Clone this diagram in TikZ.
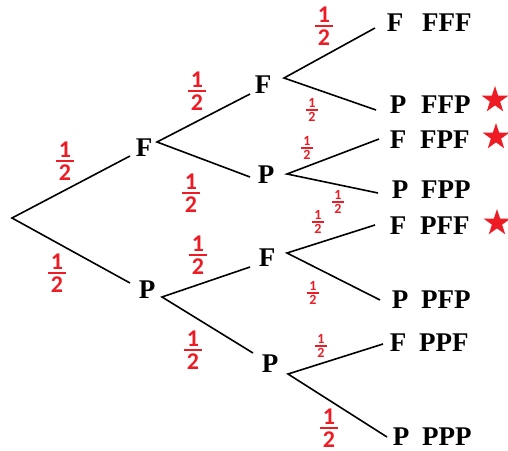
\documentclass[tikz,border=0pt]{standalone}
\usepackage{amsmath}
\usepackage{fontspec}
\setmainfont{Liberation Serif}
\newfontfamily\fracfont{Carlito}
\usetikzlibrary{calc,shapes.geometric}
\definecolor{myred}{HTML}{ED1C24}
% fraction 1/2 : #1 font size, #2 rule thickness, #3 side padding
\newcommand\myfr[3]{{\fontsize{#1}{#1}\selectfont\fracfont\bfseries$\genfrac{}{}{#2}{1}{\hbox{\kern#3 1\kern#3}}{\hbox{2}}$}}
\newcommand\bigfrac{\myfr{24}{2.2pt}{3pt}}
\newcommand\smallfrac{\myfr{14}{1.3pt}{2pt}}
\tikzset{
  lett/.style={font=\fontsize{27}{27}\selectfont\bfseries, inner sep=0pt},
  outc/.style={font=\fontsize{27}{27}\selectfont\bfseries, inner sep=0pt, anchor=west},
  branch/.style={line width=1.6pt, black},
  bigfr/.style={text=myred, inner sep=0pt},
  smallfr/.style={text=myred, inner sep=0pt},
  mystar/.style={star, star points=5, star point ratio=2.6, fill=myred, minimum size=28pt, inner sep=0pt},
}
\begin{document}
\begin{tikzpicture}[x=1pt,y=-1pt]
\useasboundingbox (0,0) rectangle (508,450);
% root and forks
\coordinate (root) at (12,218);
\node[lett] (F1) at (144,148) {F};
\node[lett] (P1) at (147,290) {P};
\node[lett] (F2) at (263,85) {F};
\node[lett] (P2) at (266,175) {P};
\node[lett] (F2b) at (267,258) {F};
\node[lett] (P2b) at (270,364) {P};
\coordinate (F1f) at (157,142);
\coordinate (P1f) at (162,297);
\coordinate (F2f) at (284,78);
\coordinate (P2f) at (287,174);
\coordinate (F2bf) at (287,253);
\coordinate (P2bf) at (288,374);
% leaves
\node[lett] (L1) at (395,23) {F};
\node[lett] (L2) at (398,105) {P};
\node[lett] (L3) at (398,140) {F};
\node[lett] (L4) at (400,190) {P};
\node[lett] (L5) at (398,226) {F};
\node[lett] (L6) at (400,300) {P};
\node[lett] (L7) at (398,343) {F};
\node[lett] (L8) at (401,437) {P};
\node[outc] (O1) at (422,23) {FFF};
\node[outc] (O2) at (421,105) {FFP};
\node[outc] (O3) at (420,140) {FPF};
\node[outc] (O4) at (421,190) {FPP};
\node[outc] (O5) at (420,226) {PFF};
\node[outc] (O6) at (421,300) {PFP};
\node[outc] (O7) at (419,343) {PPF};
\node[outc] (O8) at (422,437) {PPP};
% branches
\draw[branch] ($(F1)+(-14,8)$) -- (root) -- ($(P1)+(-17,-7)$);
\draw[branch] ($(F2)+(-13,9)$) -- (F1f) -- ($(P2)+(-16,2)$);
\draw[branch] ($(F2b)+(-17,9)$) -- (P1f) -- ($(P2b)+(-17,-11)$);
\draw[branch] ($(L1)+(-20,5)$) -- (F2f) -- ($(L2)+(-22,5)$);
\draw[branch] ($(L3)+(-19,-1)$) -- (P2f) -- ($(L4)+(-22,3)$);
\draw[branch] ($(L5)+(-23,-1)$) -- (F2bf) -- ($(L6)+(-20,0)$);
\draw[branch] ($(L7)+(-15,1)$) -- (P2bf) -- ($(L8)+(-14,0)$);
% probabilities
\node[bigfr] (p1) at (65,161) {\bigfrac};
\node[bigfr] (p2) at (57,273) {\bigfrac};
\node[bigfr] (p3) at (197,91) {\bigfrac};
\node[bigfr] (p4) at (191,193) {\bigfrac};
\node[bigfr] (p5) at (198,255) {\bigfrac};
\node[bigfr] (p6) at (193,350) {\bigfrac};
\node[bigfr] (p7) at (324,26) {\bigfrac};
\node[bigfr] (p8) at (329,428) {\bigfrac};
\node[smallfr] (q1) at (312,110) {\smallfrac};
\node[smallfr] (q2) at (307,148) {\smallfrac};
\node[smallfr] (q3) at (338,202) {\smallfrac};
\node[smallfr] (q4) at (318,222) {\smallfrac};
\node[smallfr] (q5) at (313,293) {\smallfrac};
\node[smallfr] (q6) at (321,346) {\smallfrac};
% stars
\node[mystar] (s1) at (495,100) {};
\node[mystar] (s2) at (496,137) {};
\node[mystar] (s3) at (497,223) {};
\end{tikzpicture}
\end{document}
